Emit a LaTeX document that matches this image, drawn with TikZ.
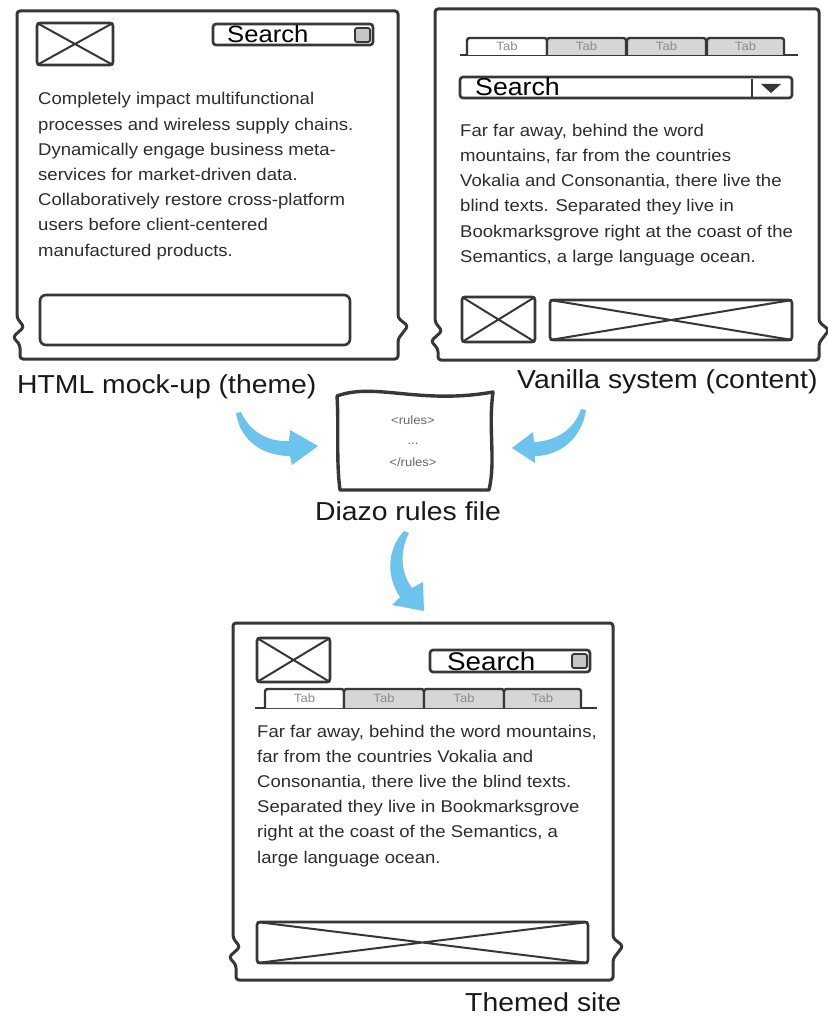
\documentclass[tikz,border=0pt]{standalone}
\usepackage{fontspec}
\setmainfont[FakeStretch=1.09]{Liberation Sans}
\definecolor{ink}{RGB}{55,55,55}
\definecolor{txt}{RGB}{45,45,45}
\definecolor{flowblue}{RGB}{108,196,238}
\definecolor{tabgray}{RGB}{214,214,214}
\newcommand{\wframe}[5]{\draw[frame] (#1,#2) -- (#3,#2) -- (#3,#5) -- ({#3+10},{#5+8}) -- ({#3},{#5+21}) -- (#3,#4) -- ({#1+3},#4) -- ({#1+3},{#5+27}) -- ({#1-4},{#5+19}) -- ({#1+7},{#5+9}) -- (#1,#5) -- cycle;}
\newcommand{\phbox}[4]{\draw[box] (#1,#2) rectangle (#3,#4); \draw[xl] (#1,#2) -- (#3,#4) (#1,#4) -- (#3,#2);}
\newcommand{\searchbox}[7]{\draw[box, fill=white] (#1,#2) rectangle (#3,#4);
  \node[anchor=base west, inner sep=0pt, text=black, font=\fontsize{#5}{#5}\selectfont] (#6) at ({#1+#7},{#4-2}) {Search};}
\begin{document}
\begin{tikzpicture}[x=1pt,y=-1pt,
  frame/.style={draw=ink, line width=3pt, rounded corners=3pt, line join=round},
  box/.style={draw=ink, line width=2.6pt, rounded corners=3pt},
  xl/.style={draw=ink, line width=2pt},
  body/.style={anchor=base west, inner sep=0pt, text=txt, font=\fontsize{17}{25}\selectfont},
  lbl/.style={anchor=base west, inner sep=0pt, text=black!90, font=\fontsize{26}{30}\selectfont},
  tabln/.style={draw=ink, line width=2.4pt, rounded corners=2.5pt},
  tablbl/.style={inner sep=0pt, text=black!45, font=\fontsize{12}{12}\selectfont},
  rule/.style={inner sep=0pt, text=black!60, font=\fontsize{12}{13}\selectfont},
  flow/.style={fill=flowblue, draw=none}]
\fill[white] (0,0) rectangle (827,1024);
\useasboundingbox (0,0) rectangle (827,1024);

% ---------- left panel: HTML mock-up ----------
\wframe{17}{11}{398}{359}{318}
\phbox{37}{23}{113}{65}
\searchbox{213}{24}{373}{45}{23.5}{sl}{14}
\draw[ink, line width=1.8pt, fill=gray!45, rounded corners=2pt] (355,28) rectangle (370,42);
\foreach \t [count=\i] in {Completely impact multifunctional,
  processes and wireless supply chains.,
  Dynamically engage business meta-,
  services for market-driven data.,
  Collaboratively restore cross-platform,
  users before client-centered,
  manufactured products.}
  \node[body] (L\i) at (38,{105+25.2*(\i-1)}) {\t};
\draw[box, rounded corners=6pt] (40,295) rectangle (350,345);
\node[lbl] (lh) at (17,393) {HTML mock-up (theme)};

% ---------- right panel: vanilla system ----------
\wframe{435}{9}{819}{360}{322}
\draw[tabln] (460,55) -- (798,55);
\foreach \a/\b/\f [count=\k] in {467/547/white,547/626/tabgray,627/706/tabgray,707/784/tabgray}{
  \draw[tabln, fill=\f] (\a,55) -- (\a,38) -- (\b,38) -- (\b,55);
  \node[tablbl] (rt\k) at ({(\a+\b)/2},46.5) {Tab};}
\searchbox{460}{77}{792}{98}{24.5}{sr}{15}
\draw[ink, line width=2.2pt] (752,79) -- (752,97);
\fill[ink] (761,84) -- (781,84) -- (771,93) -- cycle;
\foreach \t [count=\i] in {{Far far away, behind the word},
  {mountains, far from the countries},
  {Vokalia and Consonantia, there live the},
  {blind texts. Separated they live in},
  {Bookmarksgrove right at the coast of the},
  {Semantics, a large language ocean.}}
  \node[body] (R\i) at (460,{137+25*(\i-1)}) {\t};
\phbox{462}{297}{535}{342}
\phbox{550}{300}{792}{340}
\node[lbl] (lv) at (517,388) {Vanilla system (content)};

% ---------- Diazo rules file ----------
\draw[ink, line width=3.4pt, line join=round] (337,396) .. controls (375,382) and (420,405) .. (493,392)
  .. controls (488,430) and (496,460) .. (489,490) -- (340,490)
  .. controls (336,460) and (339,430) .. (337,396) -- cycle;
\node[rule] (r1) at (413,420) {<rules>};
\node[rule] (r2) at (413,444) {...};
\node[rule] (r3) at (413,462) {</rules>};
\node[lbl] (ld) at (315,520) {Diazo rules file};

% ---------- blue flow arrows ----------
\fill[flow] (236,413) .. controls (240,440) and (262,456) .. (290,456)
  -- (292,465) -- (318,446) -- (290,430) -- (289,441)
  .. controls (268,442) and (250,432) .. (241,412) -- cycle;
\fill[flow] (586,410) .. controls (582,438) and (560,456) .. (535,456)
  -- (535,463) -- (512,448) -- (533,432) -- (534,442)
  .. controls (556,441) and (574,430) .. (581,409) -- cycle;
\fill[flow] (404,531) .. controls (388,548) and (385,575) .. (400,597)
  -- (392,605) -- (424,611) -- (423,582) -- (412,588)
  .. controls (400,572) and (400,550) .. (409,533) -- cycle;

% ---------- bottom panel: themed site ----------
\wframe{233}{623}{613}{980}{938}
\phbox{257}{638}{330}{682}
\searchbox{430}{650}{590}{672}{25.5}{sb}{17}
\draw[ink, line width=1.8pt, fill=gray!45, rounded corners=2pt] (572,654) rectangle (587,668);
\draw[tabln] (255,708) -- (597,708);
\foreach \a/\b/\f [count=\k] in {265/344/white,344/424/tabgray,424/504/tabgray,504/581/tabgray}{
  \draw[tabln, fill=\f] (\a,708) -- (\a,689) -- (\b,689) -- (\b,708);
  \node[tablbl] (bt\k) at ({(\a+\b)/2},698.5) {Tab};}
\foreach \t [count=\i] in {{Far far away, behind the word mountains,},
  {far from the countries Vokalia and},
  {Consonantia, there live the blind texts.},
  {Separated they live in Bookmarksgrove},
  {right at the coast of the Semantics, a},
  {large language ocean.}}
  \node[body] (B\i) at (257,{737+25.2*(\i-1)}) {\t};
\phbox{257}{922}{588}{963}
\node[lbl] (lt) at (465,1011) {Themed site};
\end{tikzpicture}
\end{document}
